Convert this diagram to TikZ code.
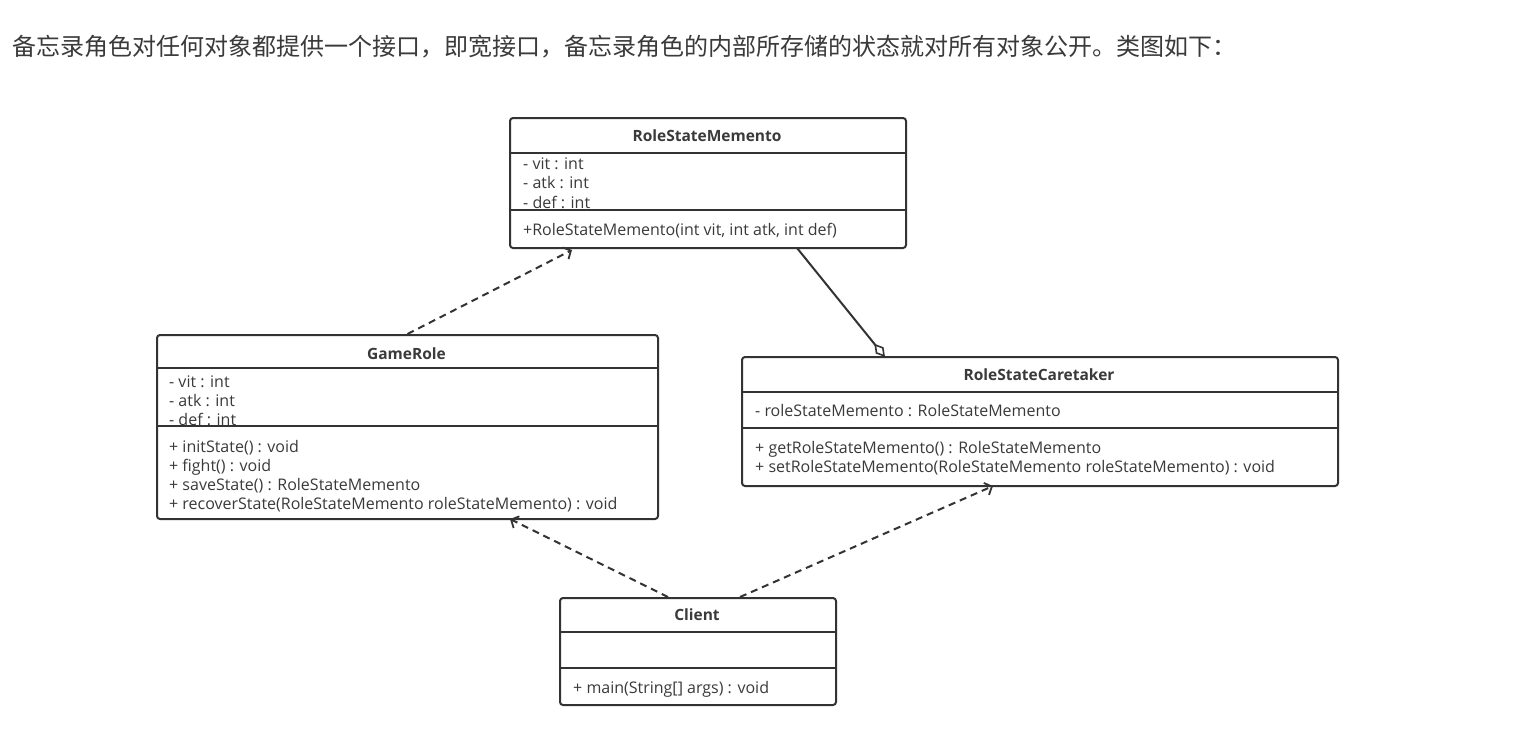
\documentclass[tikz,border=0pt]{standalone}
\usepackage{fontspec}
\setmainfont{Open Sans}
\newfontfamily\cjk{Noto Sans CJK SC}
\usetikzlibrary{arrows.meta,calc}
\definecolor{ink}{HTML}{333333}
\definecolor{txt}{HTML}{3A3A3A}
\tikzset{
  umlbox/.style={draw=ink, line width=2pt, rounded corners=3pt, rectangle, anchor=north west, inner sep=0pt},
  divider/.style={draw=ink, line width=2pt},
  row/.style={anchor=west, inner sep=0pt, text=txt, font=\fontsize{16}{18}\selectfont, text height=12pt, text depth=2pt},
  titlerow/.style={anchor=center, inner sep=0pt, text=txt, font=\fontsize{15.5}{18}\selectfont\bfseries, text height=12pt, text depth=2pt},
  dep/.style={draw=ink, line width=2pt, dash pattern=on 7pt off 5pt, -{Straight Barb[length=6pt,width=13pt,line width=1.8pt]}},
  agg/.style={draw=ink, line width=2pt, -{Diamond[open,length=17pt,width=10pt,line width=1.6pt]}},
}
\begin{document}
\begin{tikzpicture}[x=1pt,y=-1pt]
\useasboundingbox[fill=white] (0,0) rectangle (1522,739);

\node[anchor=west, inner sep=0pt, text=txt, font=\cjk\fontsize{24}{27}\selectfont] (heading) at (12,47) {备忘录角色对任何对象都提供一个接口，即宽接口，备忘录角色的内部所存储的状态就对所有对象公开。类图如下：};

% RoleStateMemento
\node[umlbox, minimum width=396pt, minimum height=130pt] (mem) at (509,117) {};
\node[titlerow] (memT) at (707,136) {RoleStateMemento};
\node[row] (memA1) at (523,164) {- vit : int};
\node[row] (memA2) at (523,183) {- atk : int};
\node[row] (memA3) at (523,203) {- def : int};
\node[row] (memM1) at (523,230) {+RoleStateMemento(int vit, int atk, int def)};
\draw[divider] (509,153) -- (905,153);
\draw[divider] (509,210) -- (905,210);

% GameRole
\node[umlbox, minimum width=501pt, minimum height=184pt] (gr) at (156,334) {};
\node[titlerow] (grT) at (406.5,354) {GameRole};
\node[row] (grA1) at (169,382) {- vit : int};
\node[row] (grA2) at (169,401) {- atk : int};
\node[row] (grA3) at (169,420) {- def : int};
\node[row] (grM1) at (169,447) {+ initState() : void};
\node[row] (grM2) at (169,466) {+ fight() : void};
\node[row] (grM3) at (169,485) {+ saveState() : RoleStateMemento};
\node[row] (grM4) at (169,504) {+ recoverState(RoleStateMemento roleStateMemento) : void};
\draw[divider] (156,368) -- (657,368);
\draw[divider] (156,426) -- (657,426);

% RoleStateCaretaker
\node[umlbox, minimum width=596pt, minimum height=129pt] (ct) at (741,356) {};
\node[titlerow] (ctT) at (1039,375) {RoleStateCaretaker};
\node[row] (ctA1) at (755,411) {- roleStateMemento : RoleStateMemento};
\node[row] (ctM1) at (755,448) {+ getRoleStateMemento() : RoleStateMemento};
\node[row] (ctM2) at (755,467) {+ setRoleStateMemento(RoleStateMemento roleStateMemento) : void};
\draw[divider] (741,392) -- (1337,392);
\draw[divider] (741,428) -- (1337,428);

% Client
\node[umlbox, minimum width=276pt, minimum height=107pt] (cl) at (559,597) {};
\node[titlerow] (clT) at (697,615) {Client};
\node[row] (clM1) at (573,688) {+ main(String[] args) : void};
\draw[divider] (559,632) -- (835,632);
\draw[divider] (559,668) -- (835,668);

% connectors
\draw[dep] (gr.north) -- ([xshift=63pt,yshift=-1pt]mem.south west);
\draw[agg] ([xshift=288pt,yshift=1pt]mem.south west) -- ([xshift=144pt,yshift=-1pt]ct.north west);
\draw[dep] ([xshift=109pt]cl.north west) -- ([xshift=354pt,yshift=1pt]gr.south west);
\draw[dep] ([xshift=181pt]cl.north west) -- ([xshift=252pt,yshift=1pt]ct.south west);
\end{tikzpicture}
\end{document}
